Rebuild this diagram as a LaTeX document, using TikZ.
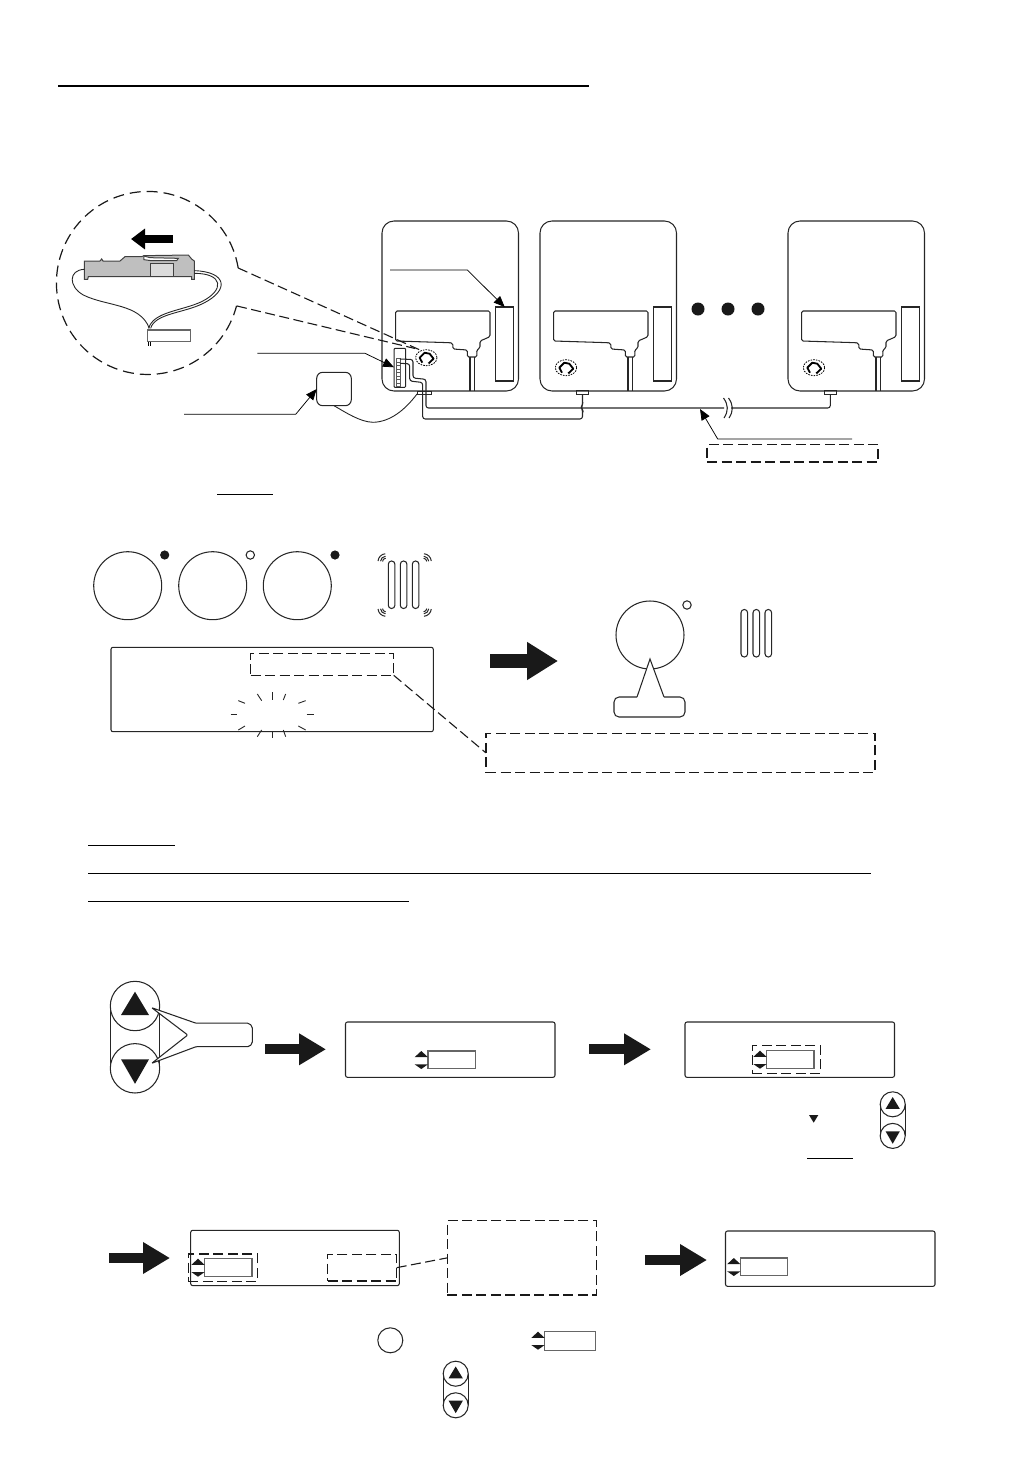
\documentclass[tikz,border=0pt]{standalone}
\usepackage{xcolor}
\usepackage{tikz}
\usetikzlibrary{arrows.meta}

\tikzset{
  ink/.style={draw=black!85,line width=1.05pt},
  rulebar/.style={draw=black,line width=.9pt},
  unitbox/.style={ink,anchor=north west,inner sep=0pt,outer sep=0pt,rounded corners=12pt,minimum width=136.5pt,minimum height=170pt},
  dispbox/.style={ink,anchor=north west,inner sep=0pt,outer sep=0pt,rounded corners=2pt,minimum width=209.5pt,minimum height=55.3pt},
  flatbox/.style={ink,anchor=north west,inner sep=0pt,outer sep=0pt},
  valbox/.style={draw=black!60,line width=1.2pt,anchor=north west,inner sep=0pt,outer sep=0pt,fill=white,minimum width=47.3pt,minimum height=17.8pt},
  dashbox/.style={draw=black!90,line width=1.1pt,anchor=north west,inner sep=0pt,outer sep=0pt,dash pattern=on 10pt off 4.5pt},
  dashline/.style={draw=black!90,line width=1.1pt,dash pattern=on 10pt off 4.5pt},
  leader/.style={draw=black,line width=.75pt,-{Triangle[length=11pt,width=9pt]}},
  fatarrow/.style={draw=black!90,line width=10pt,-{Triangle[length=27pt,width=30pt]}},
  fatarrowb/.style={draw=black!90,line width=14pt,-{Triangle[length=31pt,width=36pt]}},
  ballfill/.style={fill=black!90,draw=none},
  % three slim bars of the heater
  barsrad/.pic={
    \foreach \xb in {0,12,24} \draw[ink,rounded corners=3.2pt] (\xb,0) rectangle ++(6.6,47.5);
  },
  % the pair of arrow keys, drawn at full size
  keypair/.pic={
    \draw[ink] (-24.6,0) -- (-24.6,62.3) (24.6,0) -- (24.6,62.3);
    \draw[ink,fill=white] (0,0) circle[radius=24.7];
    \draw[ink,fill=white] (0,62.3) circle[radius=24.7];
    \fill[ballfill] (0,-14.3) -- (14,9) -- (-14,9) -- cycle;
    \fill[ballfill] (0,77.8) -- (14,53.3) -- (-14,53.3) -- cycle;
  },
  % up and down marks beside a value box
  updown/.pic={
    \fill[ballfill] (-6.7,0) -- (0,6.2) -- (-13.4,6.2) -- cycle;
    \fill[ballfill] (-6.7,18) -- (0,13.3) -- (-13.4,13.3) -- cycle;
  },
  wallemblem/.pic={
    \draw[black,line width=.8pt,dash pattern=on 1.6pt off 1.1pt] (0,0) ellipse[x radius=10.7,y radius=8];
    \draw[black,line width=1.8pt,line join=round] (-4,5) -- (-6.7,0) -- (-1.7,-5) -- (3.3,-4) -- (7.3,1) -- (2.3,5.7);
  },
  hvacunit/.pic={
    \node[unitbox] (-frame) at (0,0) {};
    \draw[ink,rounded corners=1.5pt] (13.7,120) -- (13.7,90) -- (108,90) -- (108,115.7) -- (98,120) -- (98,127) -- (94.7,129) -- (95,136) -- (85.3,136) -- (85.3,129) -- (71,128) -- (70.7,122.3) -- (68,121.7) -- cycle;
    \draw[ink] (88,136) -- (88,170) (92.3,136) -- (92.3,170);
    \node[flatbox,minimum width=18.4pt,minimum height=74pt] (-panel) at (113.5,86) {};
  }
}

\begin{document}
\begin{tikzpicture}[x=1pt,y=-1pt]
\useasboundingbox (0,0) rectangle (1032,1457);

%title rule
\draw[rulebar,line width=2.8pt] (58,86) -- (589,86);

%units on the wall
\pic (ua) at (382,221) {hvacunit};
\pic (ub) at (540,221) {hvacunit};
\pic (uc) at (788,221) {hvacunit};
\pic at (426.3,357.7) {wallemblem};
\pic at (566,367.7) {wallemblem};
\pic at (814,367.7) {wallemblem};
\foreach \xd in {698,728,758} \fill[ballfill] (\xd,309) circle[radius=6.5];

%magnified part
\draw[black!90,line width=1.2pt,dash pattern=on 11pt off 6pt] (238.2,268) arc[start angle=-9.4,end angle=-345.6,radius=91.5];
\coordinate (magtop) at (238.2,268);
\coordinate (magbot) at (237,306);
\coordinate (emba) at (420,350);
\coordinate (embb) at (415,348.5);
\draw[dashline] (magtop) -- (emba);
\draw[dashline] (magbot) -- (embb);
\draw[draw=black,line width=8pt,-{Triangle[length=14pt,width=20pt]}] (173,239) -- (131,239);
\begin{scope}[shift={(75,245)},x=.3333pt,y=-.3333pt]
\draw[draw=black!75,line width=1pt,fill=black!25] (28,48) -- (75,48) -- (80,42) -- (84,48) -- (135,48) -- (150,35) -- (200,35) -- (207,32) -- (340,30) -- (350,42) -- (358,48) -- (358,103) -- (350,103) -- (350,95) -- (40,95) -- (38,103) -- (28,103) -- cycle;
\draw[draw=black!75,line width=1pt,fill=black!14] (228,55) -- (295,55) -- (295,95) -- (228,95) -- cycle;
\draw[draw=black!75,line width=1pt,fill=white] (207,33) -- (225,38) -- (310,40) -- (305,47) -- (228,47) -- (207,44) -- cycle;
\end{scope}
\begin{scope}[shift={(40,180)},x=.3333pt,y=-.3333pt]
\draw[black!85,line width=.9pt] (133,268) .. controls (85,270) and (85,320) .. (130,345) .. controls (200,380) and (300,370) .. (328,445);
\draw[black!85,line width=.9pt] (463,272) .. controls (560,275) and (570,330) .. (490,370) .. controls (430,400) and (345,400) .. (332,445);
\draw[black!85,line width=.9pt] (463,280) .. controls (550,280) and (555,330) .. (485,365) .. controls (425,393) and (340,395) .. (326,445);
\node[draw=black!60,line width=1.1pt,fill=white,anchor=north west,inner sep=0pt,outer sep=0pt,minimum width=43.5pt,minimum height=11.5pt] (plug) at (322,450) {};
\draw[black,line width=.9pt] (325,485) -- (325,498) (332,485) -- (332,498);
\end{scope}

%wiring of the first unit
\node[draw=black!85,line width=1pt,anchor=north west,inner sep=0pt,outer sep=0pt,rounded corners=1pt,minimum width=11.7pt,minimum height=39pt] (tblock) at (394,348.3) {};
\foreach \ys in {0,3.5,...,24.5} \draw[draw=black!65,line width=.7pt] (396,358.4+\ys) rectangle ++(4,3.5);
\node[draw=black!85,line width=1pt,anchor=north west,inner sep=0pt,outer sep=0pt,minimum width=14pt,minimum height=3pt] (porta) at (417,391) {};
\node[draw=black!85,line width=1pt,anchor=north west,inner sep=0pt,outer sep=0pt,minimum width=11.6pt,minimum height=3.6pt] (portb) at (576.7,390.7) {};
\node[draw=black!85,line width=1pt,anchor=north west,inner sep=0pt,outer sep=0pt,minimum width=12.7pt,minimum height=3.6pt] (portc) at (824,390.7) {};
\draw[ink,rounded corners=2.5pt] (400,359) -- (413,359.5) -- (413,378) -- (426,379.3) -- (426,408) -- (724,408);
\draw[ink,rounded corners=2.5pt] (400,363.3) -- (409.7,363.8) -- (409.7,381) -- (422.7,382.5) -- (422.7,419) -- (582.5,419) -- (582.5,409.5) -- (581,407.5) -- (582.5,405) -- (portb.south);
\draw[ink,rounded corners=2.5pt] (731,408) -- (830.3,408) -- (portc.south);
\draw[ink] (723.5,398) .. controls (728.5,405) and (728.5,411) .. (724,418);
\draw[ink] (728.5,398) .. controls (733.5,405) and (733.5,411) .. (729,418);

%remote and its lead
\node[ink,anchor=north west,inner sep=0pt,outer sep=0pt,rounded corners=6pt,minimum width=34.6pt,minimum height=33.4pt] (remote) at (316.7,372.3) {};
\draw[draw=black!85,line width=.9pt] (remote.south) .. controls (345,412) and (360,422) .. (373,422.3) .. controls (390,422) and (405,410) .. (porta.south west);

%leaders
\coordinate (tagpanel) at (390,270);
\coordinate (bendpanel) at (467.3,270);
\draw[leader] (tagpanel) -- (bendpanel) -- (ua-panel.north);
\coordinate (tagblock) at (257.3,353.3);
\coordinate (bendblock) at (365,353.3);
\draw[leader] (tagblock) -- (bendblock) -- (tblock.175);
\coordinate (tagremote) at (184,414.3);
\coordinate (bendremote) at (295.7,414.3);
\draw[leader] (tagremote) -- (bendremote) -- (remote.west);
\coordinate (tagcable) at (852,439);
\coordinate (bendcable) at (717.7,439);
\coordinate (cablehit) at (700,409);
\draw[leader] (tagcable) -- (bendcable) -- (cablehit);
\node[dashbox,minimum width=171pt,minimum height=17.5pt] (cablenote) at (707,444.5) {};
\draw[rulebar] (217,494) -- (273,494);

%first state
\foreach \xc/\nm in {127.7/ra,212.7/rb,297.3/rc} \node[ink,circle,inner sep=0pt,minimum size=68pt] (\nm) at (\xc,585.7) {};
\fill[ballfill] (164.7,555) circle[radius=4.6];
\draw[ink,fill=white] (250.3,555) circle[radius=4.2];
\fill[ballfill] (335,555) circle[radius=4.6];
\pic at (388.3,561) {barsrad};
\foreach \xw/\yw/\aw in {386/561.7/180,423.3/561.7/270,386/608.3/90,423.3/608.3/0}
  \foreach \rw in {3.5,5.5,8}
    \draw[black!85,line width=1pt] (\xw,\yw) ++(\aw+5:\rw) arc[start angle=\aw+5,end angle=\aw+85,radius=\rw];
\node[dispbox,minimum width=322.3pt,minimum height=84.4pt] (panel) at (111,647.3) {};
\node[dashbox,minimum width=143pt,minimum height=22pt] (lamptag) at (250.7,653.3) {};
\node[dashbox,minimum width=389pt,minimum height=39pt] (lampnote) at (486,733.4) {};
\draw[dashline] (lamptag.south east) -- (lampnote.west);
\begin{scope}[shift={(80,540)},x=.3333pt,y=-.3333pt]
\foreach \xa/\ya/\xz/\yz in {576/457/576/480,532/462/545/482,610/480/617/462,475/482/495/490,655/490/677/482,452/524/472/524,680/524/702/524,475/570/495/558,655/558/677/570,532/590/545/570,610/570/617/590,576/573/576/593}
  \draw[black!85,line width=.9pt] (\xa,\ya) -- (\xz,\yz);
\end{scope}
\coordinate (fromstate) at (490,661);
\coordinate (tostate) at (558,661);
\draw[fatarrowb] (fromstate) -- (tostate);

%after the test
\node[ink,circle,inner sep=0pt,minimum size=68pt] (rd) at (650,635) {};
\draw[ink,fill=white] (687,605) circle[radius=4.2];
\pic at (741,609.5) {barsrad};
\draw[ink,fill=white,rounded corners=5pt] (637,697) -- (614,697) -- (614,717) -- (685,717) -- (685,697) -- (664,697);
\fill[white] (637,697.5) -- (650,659) -- (664,697.5) -- cycle;
\draw[ink] (637,697) -- (650,659) -- (664,697);

%notes
\draw[rulebar] (88,845) -- (175,845);
\draw[rulebar] (88,873) -- (871,873);
\draw[rulebar] (88,901) -- (409,901);

%keys then displays
\pic (keysa) at (135,1006) {keypair};
\draw[ink,fill=white,rounded corners=1pt] (151.7,1007.7) -- (196,1023.2) -- (246.7,1023.2) to[out=0,in=90] (252.3,1029) -- (252.3,1041) to[out=-90,in=0] (246.7,1046.7) -- (196,1046.7) -- (151.7,1063.3) -- (187.7,1035) -- cycle;
\coordinate (goa) at (265,1049.3);
\coordinate (gob) at (326,1049.3);
\draw[fatarrow] (goa) -- (gob);
\node[dispbox] (dispa) at (345.5,1022) {};
\node[valbox] (vala) at (428,1051) {};
\pic at (428,1051) {updown};
\coordinate (goc) at (589,1049.3);
\coordinate (god) at (651,1049.3);
\draw[fatarrow] (goc) -- (god);
\node[dispbox] (dispb) at (685,1022) {};
\node[valbox] (valb) at (766.7,1050.7) {};
\pic at (766.7,1050.7) {updown};
\node[dashbox,minimum width=68.4pt,minimum height=27.6pt] (valtagb) at (752.3,1045.7) {};
\fill[ballfill] (809,1115) -- (818.3,1115) -- (813.7,1122.7) -- cycle;
\pic[scale=.507] (keysb) at (892.7,1104.3) {keypair};
\draw[rulebar] (807.3,1158.3) -- (853,1158.3);

%last row
\coordinate (goe) at (109,1258);
\coordinate (gof) at (170,1258);
\draw[fatarrow] (goe) -- (gof);
\node[dispbox,minimum width=208.6pt] (dispc) at (190.7,1230.3) {};
\node[valbox] (valc) at (204.7,1258.7) {};
\pic at (204.7,1258.7) {updown};
\node[dashbox,minimum width=69pt,minimum height=27.3pt] (valtagc) at (188.3,1254) {};
\node[dashbox,minimum width=69pt,minimum height=26.7pt] (opttag) at (327.7,1254.3) {};
\node[dashbox,minimum width=149.4pt,minimum height=74.3pt] (optnote) at (447.3,1220.7) {};
\draw[dashline] (opttag.east) -- (optnote.west);
\coordinate (gog) at (645,1260);
\coordinate (goh) at (707,1260);
\draw[fatarrow] (gog) -- (goh);
\node[dispbox] (dispd) at (725.5,1231) {};
\node[valbox] (vald) at (740.5,1258) {};
\pic at (740.5,1258) {updown};
\node[ink,circle,inner sep=0pt,minimum size=25pt] (okkey) at (390.3,1340.3) {};
\node[valbox,minimum width=50.6pt,minimum height=18.6pt] (vale) at (544.7,1331.7) {};
\pic at (544.7,1331.7) {updown};
\pic[scale=.507] (keysc) at (455.7,1373.7) {keypair};
\end{tikzpicture}
\end{document}
